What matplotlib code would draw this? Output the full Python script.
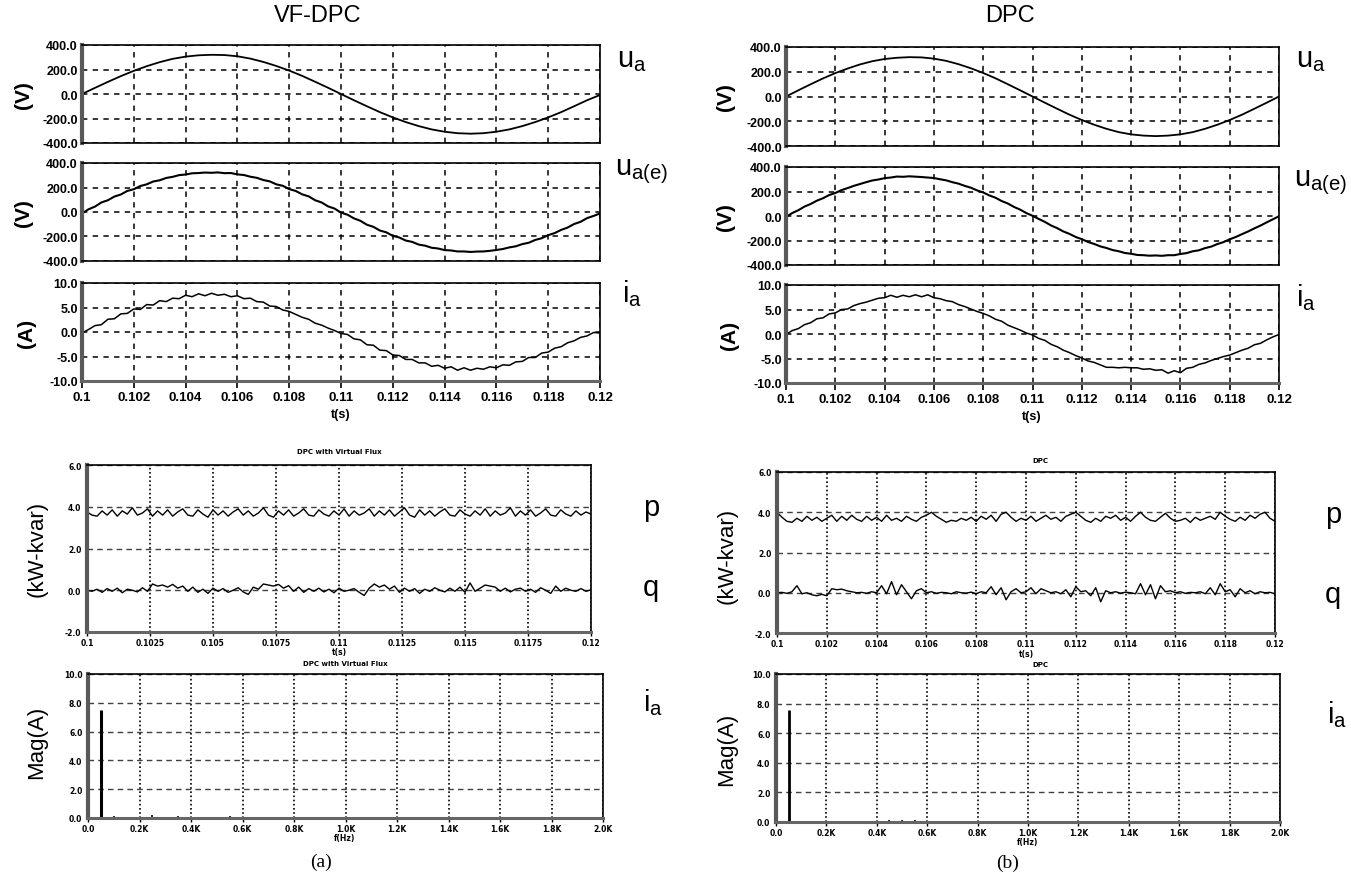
import numpy as np
import matplotlib
matplotlib.use("Agg")
import matplotlib.pyplot as plt

W, H = 1351, 879

# ---------------- data ----------------
t_start, t_end = 0.1, 0.12

ua_left = [0, 50, 99, 146, 189, 227, 260, 287, 305, 316, 320, 318, 308, 289, 262, 229, 191, 148, 100, 51, 0,
           -51, -100, -148, -191, -229, -262, -289, -308, -320, -324, -320, -308, -289, -262, -229, -191, -148,
           -100, -51, -8]
ua_right = [0, 50, 99, 146, 189, 226, 259, 285, 303, 313, 318, 316, 306, 288, 261, 228, 190, 147, 99, 50, 0,
            -50, -99, -147, -190, -228, -261, -288, -306, -316, -320, -316, -306, -288, -261, -228, -190, -147,
            -99, -50, 0]

uae_left = [-12, 22, 44, 78, 96, 126, 143, 172, 186, 212, 226, 249, 259, 278, 287, 301, 306, 316, 318, 322,
            320, 323, 317, 318, 307, 302, 288, 279, 261, 250, 226, 214, 187, 172, 144, 128, 96, 78, 46, 28, -5,
            -22, -52, -72, -104, -121, -151, -166, -195, -208, -233, -244, -266, -275, -292, -298, -311, -314,
            -322, -322, -326, -323, -322, -317, -310, -302, -289, -280, -262, -251, -228, -214, -189, -172,
            -146, -127, -98, -80, -50, -32, -12]
uae_right = [-8, 24, 47, 77, 98, 125, 145, 171, 188, 211, 228, 246, 261, 276, 290, 298, 309, 314, 322, 320,
             324, 321, 318, 314, 310, 300, 291, 276, 264, 246, 231, 209, 192, 168, 149, 122, 102, 74, 52, 24, 2,
             -24, -48, -77, -99, -126, -146, -171, -189, -212, -228, -248, -261, -278, -288, -302, -308, -318,
             -320, -324, -322, -325, -320, -320, -310, -303, -288, -280, -262, -250, -229, -213, -190, -171,
             -148, -126, -101, -78, -52, -27, -2]

ia_left = [-0.2, 0.5, 1.3, 1.5, 2.6, 2.7, 3.7, 3.8, 4.7, 4.6, 5.6, 5.5, 6.4, 6.2, 6.9, 6.8, 7.5, 7.2, 7.8, 7.4,
           7.9, 7.5, 7.7, 7.2, 7.4, 6.8, 6.9, 6.2, 6.1, 5.3, 5.2, 4.5, 4.2, 3.6, 3.0, 2.6, 1.8, 1.4, 0.8, 0.3,
           -0.3, -0.5, -1.4, -1.6, -2.6, -2.7, -3.7, -3.8, -4.7, -4.8, -5.6, -5.6, -6.3, -6.3, -7.0, -6.8, -7.4,
           -7.1, -7.8, -7.3, -7.8, -7.4, -7.6, -7.1, -7.3, -6.7, -6.8, -6.1, -6.0, -5.2, -5.2, -4.3, -4.1, -3.3,
           -3.0, -2.2, -1.8, -1.1, -0.8, -0.1, -0.2]
ia_right = [-0.1, 0.7, 1.1, 1.9, 2.3, 3.1, 3.3, 4.1, 4.3, 5.0, 5.1, 5.8, 6.2, 6.5, 6.9, 7.3, 7.4, 7.9, 7.5, 7.9,
            7.6, 8.0, 7.6, 8.0, 7.4, 7.2, 6.8, 6.6, 6.0, 5.6, 5.1, 4.6, 4.2, 3.7, 3.0, 2.6, 1.8, 1.3, 0.8, 0.2,
            -0.2, -0.9, -1.3, -2.1, -2.6, -3.3, -3.8, -4.4, -4.9, -5.5, -5.8, -6.3, -6.8, -6.8, -6.9, -6.8, -6.9,
            -6.9, -7.2, -7.1, -7.4, -7.3, -8.0, -7.5, -7.9, -7.0, -6.8, -6.2, -5.9, -5.4, -5.0, -4.6, -4.3, -3.8,
            -3.3, -2.9, -2.2, -1.9, -1.2, -0.6, -0.1]

p_left = [3.75, 3.60, 3.55, 3.80, 3.60, 3.85, 3.55, 3.80, 3.65, 3.95, 3.60, 3.70, 3.90, 3.55, 3.80, 3.60, 3.85, 3.55, 3.75, 3.90,
          3.60, 3.55, 3.85, 3.65, 3.50, 3.85, 3.60, 3.80, 3.55, 3.75, 3.90, 3.60, 3.80, 3.55, 3.70, 3.95, 3.60, 3.50, 3.80, 3.60,
          3.85, 3.55, 3.70, 3.90, 3.60, 3.55, 3.85, 3.65, 3.55, 3.80, 3.60, 3.90, 3.55, 3.80, 3.60, 3.70, 3.90, 3.55, 3.80, 3.60,
          3.85, 3.55, 3.75, 3.95, 3.60, 3.50, 3.85, 3.60, 3.80, 3.55, 3.75, 3.90, 3.60, 3.55, 3.85, 3.65, 3.55, 3.80, 3.60, 3.90,
          3.55, 3.80, 3.60, 3.70, 3.95, 3.55, 3.80, 3.60, 3.85, 3.55, 3.70, 3.90, 3.60, 3.55, 3.85, 3.65, 3.55, 3.80, 3.60, 3.75,
          3.65]
q_left = [0.00, -0.05, 0.05, -0.10, 0.08, -0.05, 0.10, -0.12, 0.05, 0.00, -0.08, 0.12, -0.05, 0.30, 0.20, 0.25, 0.15, 0.28, 0.10, 0.20,
          -0.05, 0.15, -0.10, 0.05, -0.15, 0.10, -0.05, 0.08, -0.10, 0.00, 0.12, -0.08, -0.20, 0.15, 0.05, 0.30, 0.25, 0.20, 0.28, 0.10,
          0.22, -0.05, 0.15, -0.10, 0.08, -0.05, 0.10, -0.08, 0.05, -0.12, 0.10, -0.05, 0.00, 0.08, -0.10, -0.25, 0.10, 0.30, 0.15, 0.25,
          0.05, 0.20, -0.10, 0.10, -0.05, 0.08, -0.15, 0.05, -0.05, 0.12, 0.00, -0.08, 0.10, -0.05, 0.15, -0.10, 0.35, -0.05, 0.10, 0.25,
          0.20, 0.15, -0.05, 0.10, -0.08, 0.05, 0.10, -0.05, 0.05, -0.10, 0.12, 0.00, -0.15, 0.20, -0.05, 0.10, 0.00, -0.05, 0.08, -0.05,
          0.02]

p_right = [4.00, 3.75, 3.55, 3.50, 3.70, 3.55, 3.80, 3.60, 3.75, 3.55, 3.70, 3.85, 3.55, 3.80, 3.60, 3.85, 3.65, 3.55, 3.80, 3.60,
           3.75, 3.55, 3.85, 3.60, 3.70, 3.55, 3.80, 3.65, 3.55, 3.75, 3.85, 4.00, 3.80, 3.65, 3.50, 3.60, 3.55, 3.70, 3.60, 3.75,
           3.55, 3.80, 3.65, 3.85, 3.55, 3.90, 4.00, 3.75, 3.55, 3.70, 3.60, 3.80, 3.55, 3.70, 3.85, 3.65, 3.75, 3.55, 3.80, 3.90,
           4.00, 3.80, 3.60, 3.50, 3.70, 3.55, 3.80, 3.70, 3.85, 3.60, 3.75, 3.55, 3.80, 4.00, 3.75, 3.60, 3.55, 3.75, 3.95, 3.70,
           3.55, 3.60, 3.70, 3.50, 3.75, 3.60, 3.70, 3.80, 3.65, 4.00, 3.80, 3.65, 3.55, 3.75, 3.60, 3.85, 3.70, 3.90, 4.00, 3.70,
           3.55]
q_right = [0.00, 0.02, -0.03, 0.05, 0.35, -0.05, 0.00, -0.10, -0.15, -0.08, -0.15, 0.20, 0.15, 0.18, 0.10, 0.05, 0.00, 0.02, -0.03, 0.05,
           0.00, 0.35, -0.05, 0.55, -0.10, 0.40, 0.05, -0.30, 0.10, 0.20, 0.00, 0.05, -0.03, 0.02, 0.00, -0.05, 0.05, 0.00, -0.02, 0.03,
           -0.05, 0.05, 0.00, 0.30, -0.10, 0.25, -0.35, 0.05, 0.20, 0.00, 0.05, 0.25, -0.05, 0.20, 0.10, 0.00, 0.05, -0.05, 0.15, -0.20,
           0.30, 0.05, 0.10, -0.15, 0.25, -0.45, 0.10, 0.00, 0.05, -0.02, 0.03, 0.00, -0.05, 0.45, -0.10, 0.40, -0.30, 0.35, 0.05, 0.10,
           0.00, 0.05, -0.03, 0.02, 0.00, 0.05, -0.05, 0.25, -0.10, 0.45, 0.05, 0.15, -0.20, 0.20, 0.00, 0.10, -0.05, 0.05, 0.00, 0.02,
           -0.05]

fft_freq_left = [50, 100, 150, 250, 350, 450, 550, 650, 700, 750, 800, 850, 900, 950, 1000, 1050, 1100, 1250, 1450, 1650, 1850]
fft_mag_left = [7.5, 0.12, 0.05, 0.2, 0.12, 0.06, 0.15, 0.08, 0.10, 0.07, 0.09, 0.06, 0.08, 0.07, 0.06, 0.06, 0.05, 0.05, 0.04, 0.05, 0.04]
fft_freq_right = [50, 100, 150, 250, 350, 450, 500, 550, 600, 650, 700, 800, 900, 1000, 1150, 1350, 1550, 1750, 1950]
fft_mag_right = [7.6, 0.05, 0.08, 0.06, 0.08, 0.12, 0.15, 0.12, 0.10, 0.08, 0.06, 0.05, 0.05, 0.04, 0.04, 0.05, 0.04, 0.04, 0.03]

u_ticks = [-400, -200, 0, 200, 400]
u_ticklabels = ["-400.0", "-200.0", "0.0", "200.0", "400.0"]
i_ticks = [-10, -5, 0, 5, 10]
i_ticklabels = ["-10.0", "-5.0", "0.0", "5.0", "10.0"]
t_ticks_top = [0.1, 0.102, 0.104, 0.106, 0.108, 0.11, 0.112, 0.114, 0.116, 0.118, 0.12]
t_ticklabels_top = ["0.1", "0.102", "0.104", "0.106", "0.108", "0.11", "0.112", "0.114", "0.116", "0.118", "0.12"]
pq_ticks = [-2, 0, 2, 4, 6]
pq_ticklabels = ["-2.0", "0.0", "2.0", "4.0", "6.0"]
t_ticks_pq_left = [0.1, 0.1025, 0.105, 0.1075, 0.11, 0.1125, 0.115, 0.1175, 0.12]
t_ticklabels_pq_left = ["0.1", "0.1025", "0.105", "0.1075", "0.11", "0.1125", "0.115", "0.1175", "0.12"]
f_ticks = [0, 200, 400, 600, 800, 1000, 1200, 1400, 1600, 1800, 2000]
f_ticklabels = ["0.0", "0.2K", "0.4K", "0.6K", "0.8K", "1.0K", "1.2K", "1.4K", "1.6K", "1.8K", "2.0K"]
mag_ticks = [0, 2, 4, 6, 8, 10]
mag_ticklabels = ["0.0", "2.0", "4.0", "6.0", "8.0", "10.0"]

# ---------------- style ----------------
ARIAL = ['Liberation Sans', 'DejaVu Sans']
TINY = ['DejaVu Sans']
plt.rcParams['font.family'] = ARIAL

fig = plt.figure(figsize=(W / 100, H / 100), dpi=100)
fig.patch.set_facecolor('white')


def rect(l, t, r, b):
    return [l / W, 1 - b / H, (r - l) / W, (b - t) / H]


def tgrid(vals):
    return np.linspace(t_start, t_end, len(vals))


def frame(ax, bottom_gray=False):
    for s in ['top', 'right']:
        ax.spines[s].set_linewidth(1.2)
        ax.spines[s].set_color('black')
    ax.spines['left'].set_linewidth(3.0)
    ax.spines['left'].set_color('0.35')
    if bottom_gray:
        ax.spines['bottom'].set_linewidth(2.2)
        ax.spines['bottom'].set_color('0.4')
    else:
        ax.spines['bottom'].set_linewidth(1.2)
        ax.spines['bottom'].set_color('black')


def top_axis(r, ylim, yt, ytl, show_x):
    ax = fig.add_axes(r)
    ax.set_xlim(t_start, t_end)
    ax.set_ylim(*ylim)
    ax.set_xticks(t_ticks_top)
    ax.set_yticks(yt)
    ax.set_yticklabels(ytl, fontfamily=ARIAL, fontweight='bold', fontsize=9)
    ax.grid(True, ls=(0, (3.5, 3.5)), color='black', lw=1.1)
    ax.set_axisbelow(True)
    ax.tick_params(axis='y', length=0, pad=3)
    if show_x:
        ax.set_xticklabels(t_ticklabels_top, fontfamily=ARIAL, fontweight='bold', fontsize=9.5)
        ax.tick_params(axis='x', length=5, width=1.2, direction='out', pad=2)
    else:
        ax.set_xticklabels([])
        ax.tick_params(axis='x', length=0)
    frame(ax, bottom_gray=show_x)
    return ax


def bottom_axis(r, xlim, xt, xtl, ylim, yt, ytl):
    ax = fig.add_axes(r)
    ax.set_xlim(*xlim)
    ax.set_ylim(*ylim)
    ax.set_xticks(xt)
    ax.set_xticklabels(xtl, fontfamily=TINY, fontweight='bold', fontsize=5.5)
    ax.set_yticks(yt)
    ax.set_yticklabels(ytl, fontfamily=TINY, fontweight='bold', fontsize=5.5)
    ax.xaxis.grid(True, ls=(0, (1, 1.5)), color='black', lw=1.2)
    ax.yaxis.grid(True, ls=(0, (4, 3)), color='0.25', lw=1.0)
    ax.set_axisbelow(True)
    ax.tick_params(axis='y', length=0, pad=4)
    ax.tick_params(axis='x', length=3, width=1, direction='out', pad=1.5)
    frame(ax, bottom_gray=True)
    return ax


# ---------------- left column (a) ----------------
a1 = top_axis(rect(82, 46, 600, 144), (-400, 400), u_ticks, u_ticklabels, False)
a1.plot(tgrid(ua_left), ua_left, color='black', lw=1.3)
a2 = top_axis(rect(82, 164, 600, 262), (-400, 400), u_ticks, u_ticklabels, False)
a2.plot(tgrid(uae_left), uae_left, color='black', lw=1.5)
a3 = top_axis(rect(82, 284, 600, 382), (-10, 10), i_ticks, i_ticklabels, True)
a3.plot(tgrid(ia_left), ia_left, color='black', lw=1.1)

a4 = bottom_axis(rect(87, 466, 591, 633), (t_start, t_end), t_ticks_pq_left, t_ticklabels_pq_left,
                 (-2, 6), pq_ticks, pq_ticklabels)
a4.plot(tgrid(p_left), p_left, color='black', lw=1.0)
a4.plot(tgrid(q_left), q_left, color='black', lw=1.0)

a5 = bottom_axis(rect(88, 675, 603, 819), (0, 2000), f_ticks, f_ticklabels, (0, 10), mag_ticks, mag_ticklabels)
a5.vlines(fft_freq_left, 0, fft_mag_left, color='black', lw=[2.2] + [1.2] * (len(fft_freq_left) - 1))
a5.axhline(0, color='black', lw=2.0)

# ---------------- right column (b) ----------------
b1 = top_axis(rect(786, 48, 1279, 147), (-400, 400), u_ticks, u_ticklabels, False)
b1.plot(tgrid(ua_right), ua_right, color='black', lw=1.3)
b2 = top_axis(rect(786, 168, 1279, 266), (-400, 400), u_ticks, u_ticklabels, False)
b2.plot(tgrid(uae_right), uae_right, color='black', lw=1.5)
b3 = top_axis(rect(786, 286, 1279, 384), (-10, 10), i_ticks, i_ticklabels, True)
b3.plot(tgrid(ia_right), ia_right, color='black', lw=1.1)

b4 = bottom_axis(rect(777, 473, 1275, 634), (t_start, t_end), t_ticks_top, t_ticklabels_top,
                 (-2, 6), pq_ticks, pq_ticklabels)
b4.plot(tgrid(p_right), p_right, color='black', lw=1.0)
b4.plot(tgrid(q_right), q_right, color='black', lw=1.0)

b5 = bottom_axis(rect(776, 675, 1280, 823), (0, 2000), f_ticks, f_ticklabels, (0, 10), mag_ticks, mag_ticklabels)
b5.vlines(fft_freq_right, 0, fft_mag_right, color='black', lw=[2.0] + [1.2] * (len(fft_freq_right) - 1))
b5.axhline(0, color='black', lw=2.0)


# ---------------- texts ----------------
def ftext(x, y, s, **kw):
    fig.text(x / W, 1 - y / H, s, **kw)


# titles
ftext(318, 16, "VF-DPC", fontsize=17, ha='center', va='center')
ftext(1010, 16, "DPC", fontsize=17, ha='center', va='center')

# y labels
for y in (95, 213):
    ftext(23, y, "(V)", fontsize=15, fontweight='bold', rotation=90, ha='center', va='center')
ftext(27, 333, "(A)", fontsize=15, fontweight='bold', rotation=90, ha='center', va='center')
for y in (97, 217):
    ftext(726, y, "(V)", fontsize=15, fontweight='bold', rotation=90, ha='center', va='center')
ftext(730, 335, "(A)", fontsize=15, fontweight='bold', rotation=90, ha='center', va='center')
ftext(37, 549, "(kW-kvar)", fontsize=16, rotation=90, ha='center', va='center')
ftext(37, 742, "Mag(A)", fontsize=16, rotation=90, ha='center', va='center')
ftext(727, 556, "(kW-kvar)", fontsize=16, rotation=90, ha='center', va='center')
ftext(727, 749, "Mag(A)", fontsize=16, rotation=90, ha='center', va='center')

# x axis labels
ftext(341, 415, "t(s)", fontfamily=ARIAL, fontweight='bold', fontsize=9, ha='center', va='center')
ftext(1032, 417, "t(s)", fontfamily=ARIAL, fontweight='bold', fontsize=9, ha='center', va='center')
ftext(339, 653, "t(s)", fontfamily=TINY, fontweight='bold', fontsize=5.5, ha='center', va='center')
ftext(1026, 655, "t(s)", fontfamily=TINY, fontweight='bold', fontsize=5.5, ha='center', va='center')
ftext(345, 839, "f(Hz)", fontfamily=TINY, fontweight='bold', fontsize=5.5, ha='center', va='center')
ftext(1028, 843, "f(Hz)", fontfamily=TINY, fontweight='bold', fontsize=5.5, ha='center', va='center')

# small plot titles
ftext(339, 452, "DPC with Virtual Flux", fontfamily=TINY, fontweight='bold', fontsize=5, ha='center', va='center')
ftext(345, 664, "DPC with Virtual Flux", fontfamily=TINY, fontweight='bold', fontsize=5, ha='center', va='center')
ftext(1040, 461, "DPC", fontfamily=TINY, fontweight='bold', fontsize=5, ha='center', va='center')
ftext(1040, 665, "DPC", fontfamily=TINY, fontweight='bold', fontsize=5, ha='center', va='center')

# signal labels
SIG = dict(fontsize=21, ha='left', va='center')
ftext(617, 60, r"$\mathregular{u_a}$", **SIG)
ftext(615, 172, r"$\mathregular{u_{a(e)}}$", **SIG)
ftext(622, 294, r"$\mathregular{i_a}$", **SIG)
ftext(1296, 60, r"$\mathregular{u_a}$", **SIG)
ftext(1294, 183, r"$\mathregular{u_{a(e)}}$", **SIG)
ftext(1296, 298, r"$\mathregular{i_a}$", **SIG)
ftext(643, 508, "p", **SIG)
ftext(643, 588, "q", **SIG)
ftext(643, 703, r"$\mathregular{i_a}$", **SIG)
ftext(1325, 515, "p", **SIG)
ftext(1325, 595, "q", **SIG)
ftext(1327, 715, r"$\mathregular{i_a}$", **SIG)

# panel labels
ftext(321, 862, "(a)", fontfamily=['Liberation Serif', 'DejaVu Serif'], fontsize=14, ha='center', va='center')
ftext(1008, 863, "(b)", fontfamily=['Liberation Serif', 'DejaVu Serif'], fontsize=14, ha='center', va='center')

fig.savefig("out.png", dpi=100, facecolor='white')
